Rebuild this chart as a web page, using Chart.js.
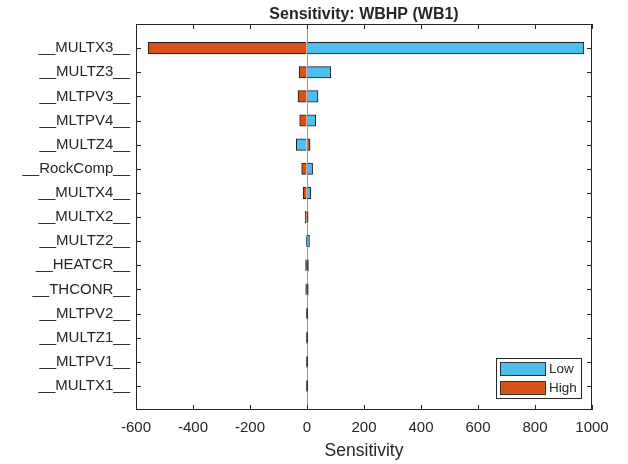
<!DOCTYPE html>
<html>
<head>
<meta charset="utf-8">
<title>Sensitivity: WBHP (WB1)</title>
<script src="https://cdn.jsdelivr.net/npm/chart.js@4.4.0/dist/chart.umd.min.js"></script>
<style>
    html, body { margin: 0; padding: 0; background: #fff; }
    #wrap { width: 628px; height: 464px; }
</style>
</head>
<body>
<div id="wrap"><canvas id="myChart" width="628" height="464"></canvas></div>
<script>
// Chart data (top row first)
let params = ['__MULTX3__', '__MULTZ3__', '__MLTPV3__', '__MLTPV4__', '__MULTZ4__',
    '__RockComp__', '__MULTX4__', '__MULTX2__', '__MULTZ2__', '__HEATCR__',
    '__THCONR__', '__MLTPV2__', '__MULTZ1__', '__MLTPV1__', '__MULTX1__'];
let lowValues = [971, 83, 38, 30, -37, 19, 13, 3, 8, 4, 3.5, 1.5, 1.5, 1.5, 1.5];
let highValues = [-557, -27, -31, -25, 10, -18, -13, -6, -1, -4, -3.5, -0.5, -0.5, -0.5, -0.5];
let xTicks = [-600, -400, -200, 0, 200, 400, 600, 800, 1000];
let chartTitle = 'Sensitivity: WBHP (WB1)';
let xLabel = 'Sensitivity';

const textColor = '#262626';
const edgeColor = '#1a1a1a';
const fontName = '"Liberation Sans", Arial, Helvetica, sans-serif';

function toPoints(values) {
    return values.map((v, i) => ({ x: v, y: i + 1 }));
}

// very thin bars are all edge, as in the original plot
function barFill(color) {
    return c => (c.raw && Math.abs(c.raw.x) < 5) ? edgeColor : color;
}

// box, inward ticks, title and legend, drawn like MATLAB does it
const matlabLook = {
    id: 'matlabLook',
    afterDraw(chart) {
        const ctx = chart.ctx;
        const a = chart.chartArea;
        const xs = chart.scales.x;
        const ys = chart.scales.y;
        ctx.save();
        ctx.strokeStyle = textColor;
        ctx.lineWidth = 1;
        ctx.strokeRect(a.left + 0.5, a.top + 0.5, a.right - a.left - 1, a.bottom - a.top - 1);

        ctx.beginPath();
        xTicks.forEach(t => {
            let px = Math.round(xs.getPixelForValue(t)) + 0.5;
            ctx.moveTo(px, a.bottom);
            ctx.lineTo(px, a.bottom - 5);
            ctx.moveTo(px, a.top);
            ctx.lineTo(px, a.top + 5);
        });
        params.forEach((p, i) => {
            let py = Math.round(ys.getPixelForValue(i + 1)) + 0.5;
            ctx.moveTo(a.left, py);
            ctx.lineTo(a.left + 5, py);
            ctx.moveTo(a.right, py);
            ctx.lineTo(a.right - 5, py);
        });
        ctx.stroke();

        // title
        ctx.fillStyle = textColor;
        ctx.font = 'bold 16px ' + fontName;
        ctx.textAlign = 'center';
        ctx.textBaseline = 'alphabetic';
        ctx.fillText(chartTitle, (a.left + a.right) / 2, 18.5);

        // legend
        let lx = a.right - 96, ly = a.bottom - 52;
        ctx.fillStyle = '#fff';
        ctx.fillRect(lx, ly, 85, 40);
        ctx.strokeStyle = textColor;
        ctx.strokeRect(lx + 0.5, ly + 0.5, 85, 40);
        ctx.font = '13.5px ' + fontName;
        ctx.textAlign = 'left';
        ctx.textBaseline = 'middle';
        chart.data.datasets.forEach((ds, i) => {
            let sy = ly + 4 + i * 19;
            ctx.fillStyle = ds.legendColor;
            ctx.fillRect(lx + 4.5, sy + 0.5, 45, 13);
            ctx.strokeStyle = '#333';
            ctx.strokeRect(lx + 4.5, sy + 0.5, 45, 13);
            ctx.fillStyle = textColor;
            ctx.fillText(ds.label, lx + 53, sy + 7.5);
        });
        ctx.restore();
    }
};

function createChart() {
    var ctx = document.getElementById('myChart').getContext('2d');
    var myChart = new Chart(ctx, {
        type: 'bar',
        data: {
            datasets: [{
                label: 'Low',
                legendColor: '#4DBEEE',
                data: toPoints(lowValues),
                backgroundColor: barFill('#4DBEEE'),
                borderColor: edgeColor,
                borderWidth: 1,
                inflateAmount: 0.5
            }, {
                label: 'High',
                legendColor: '#D95319',
                data: toPoints(highValues),
                backgroundColor: barFill('#D95319'),
                borderColor: edgeColor,
                borderWidth: 1,
                inflateAmount: 0.5
            }]
        },
        options: {
            indexAxis: 'y',
            responsive: false,
            animation: false,
            categoryPercentage: 1,
            barPercentage: 0.46,
            layout: { padding: { top: 24, right: 36, left: 0, bottom: 0 } },
            plugins: {
                legend: { display: false },
                title: { display: false },
                tooltip: { enabled: false }
            },
            scales: {
                x: {
                    type: 'linear',
                    stacked: true,
                    min: -600,
                    max: 1000,
                    afterBuildTicks: scale => { scale.ticks = xTicks.map(v => ({ value: v })); },
                    afterFit: scale => { scale.height = 54; },
                    border: { display: false },
                    grid: {
                        drawTicks: false,
                        color: c => (c.tick && c.tick.value === 0) ? '#9a9a9a' : 'rgba(0,0,0,0)'
                    },
                    ticks: {
                        padding: 9,
                        color: textColor,
                        font: { family: fontName, size: 15 },
                        callback: v => String(v)
                    },
                    title: {
                        display: true,
                        text: xLabel,
                        color: textColor,
                        font: { family: fontName, size: 17.5 },
                        padding: { top: 0, bottom: 2 }
                    }
                },
                y: {
                    type: 'linear',
                    stacked: true,
                    reverse: true,
                    offset: false,
                    min: 0,
                    max: params.length + 1,
                    afterBuildTicks: scale => { scale.ticks = params.map((p, i) => ({ value: i + 1 })); },
                    afterFit: scale => { scale.width = 136; },
                    border: { display: false },
                    grid: { display: false, drawTicks: false },
                    ticks: {
                        autoSkip: false,
                        padding: 6,
                        color: textColor,
                        font: { family: fontName, size: 15 },
                        callback: v => params[v - 1] || ''
                    }
                }
            }
        },
        plugins: [matlabLook]
    });
}

createChart();
</script>
</body>
</html>
